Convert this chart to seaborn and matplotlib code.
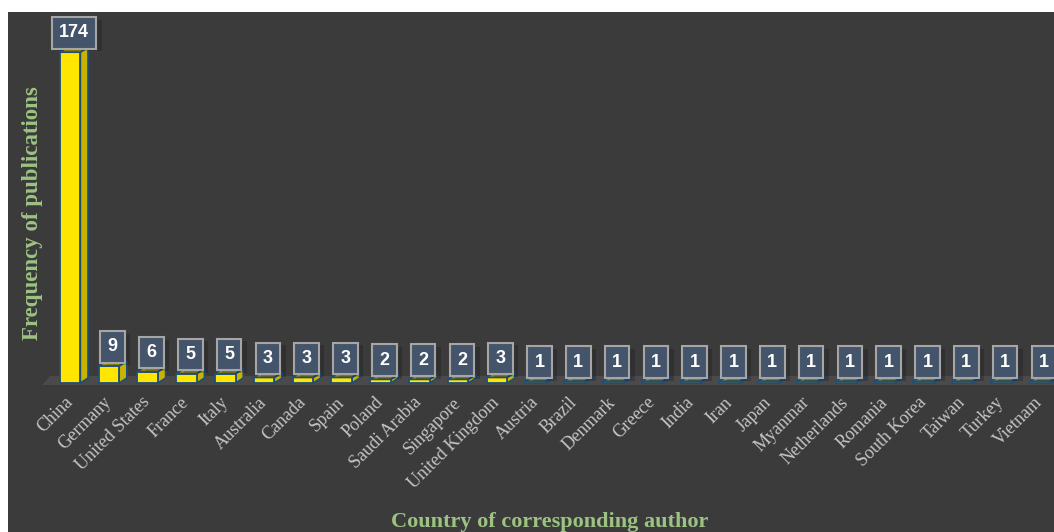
import matplotlib
matplotlib.use("Agg")
import matplotlib.pyplot as plt
from matplotlib.patches import Polygon, Rectangle
import matplotlib.patheffects as pe
import seaborn as sns

countries = ["China", "Germany", "United States", "France", "Italy", "Australia",
             "Canada", "Spain", "Poland", "Saudi Arabia", "Singapore", "United Kingdom",
             "Austria", "Brazil", "Denmark", "Greece", "India", "Iran", "Japan",
             "Myanmar", "Netherlands", "Romania", "South Korea", "Taiwan", "Turkey", "Vietnam"]
counts = [174, 9, 6, 5, 5, 3, 3, 3, 2, 2, 2, 3, 1, 1, 1, 1, 1, 1, 1, 1, 1, 1, 1, 1, 1, 1]
x_title = "Country of corresponding author"
y_title = "Frequency of publications"

BG = "#3b3b3b"
FRONT = "#ffe600"
SIDE = "#c9b300"
TOP = "#a38f00"
EDGE = "#1f4e79"
GREEN = "#9dc383"
TICK = "#c4c4c4"

sns.set_style("white")
W, H = 1054, 532
fig = plt.figure(figsize=(W / 100, H / 100), dpi=100, facecolor="white")
fig.patches.append(Rectangle((8 / W, 0), 1, (H - 12) / H, transform=fig.transFigure,
                             facecolor=BG, edgecolor="none", zorder=-10))

left_px, right_px, bot_px, top_px = 39, 1053.6, 386, 20
ax = fig.add_axes([left_px / W, (H - bot_px) / H, (right_px - left_px) / W, (bot_px - top_px) / H])
ax.set_facecolor("none")

sns.barplot(x=countries, y=counts, color=FRONT, width=0.53, edgecolor=EDGE,
            linewidth=1.3, saturation=1, ax=ax, zorder=3)

ax.set_xlim(-0.8, 25.35)
ax.set_ylim(-1.5, 190.9)

dx, dy = 0.2, 2.7

# floor
floor = Polygon([(-0.72, -1.0), (25.35, -1.0), (25.35, -1.0 + dy * 1.7), (-0.72 + dx, -1.0 + dy * 1.7)],
                closed=True, facecolor="#4b4949", edgecolor="none", zorder=1)
ax.add_patch(floor)

for p, v in zip(ax.patches[:len(counts)], counts):
    x0 = p.get_x()
    w = p.get_width()
    h = p.get_height()
    side = Polygon([(x0 + w, 0), (x0 + w + dx, dy), (x0 + w + dx, h + dy), (x0 + w, h)],
                   closed=True, facecolor=SIDE, edgecolor=EDGE, linewidth=1.3, zorder=2)
    top = Polygon([(x0, h), (x0 + w, h), (x0 + w + dx, h + dy), (x0 + dx, h + dy)],
                  closed=True, facecolor=TOP, edgecolor=EDGE, linewidth=1.3, zorder=4)
    ax.add_patch(side)
    ax.add_patch(top)
    cx = x0 + w / 2 + dx / 2
    t = ax.annotate(str(v), (cx, h + dy), xytext=(0, 4), textcoords="offset points",
                    ha="center", va="bottom", fontsize=13, fontweight="bold", color="white",
                    family="Liberation Sans", zorder=6,
                    bbox=dict(boxstyle="square,pad=0.4", facecolor="#44546a",
                              edgecolor="#a6a6a6", linewidth=1.5))
    t.get_bbox_patch().set_path_effects([
        pe.SimplePatchShadow(offset=(4, -2), shadow_rgbFace="black", alpha=0.18),
        pe.Normal()])

for s in ax.spines.values():
    s.set_visible(False)
ax.set_yticks([])
ax.tick_params(axis="x", length=0, pad=10)
ax.set_xticks(range(len(countries)))
ax.set_xticklabels(countries, rotation=45, ha="right", va="center", rotation_mode="anchor",
                   fontsize=13, color=TICK, family="Liberation Serif")
ax.set_xlabel("")
ax.set_ylabel("")

fig.text(550 / W, 1 - 522 / H, x_title, ha="center", va="center", fontsize=16,
         fontweight="bold", color=GREEN, family="Liberation Serif")
fig.text(33 / W, 1 - 213 / H, y_title, ha="center", va="center", rotation=90, fontsize=16.5,
         fontweight="bold", color=GREEN, family="Liberation Serif")

fig.savefig("out.png", dpi=100, facecolor="white")
